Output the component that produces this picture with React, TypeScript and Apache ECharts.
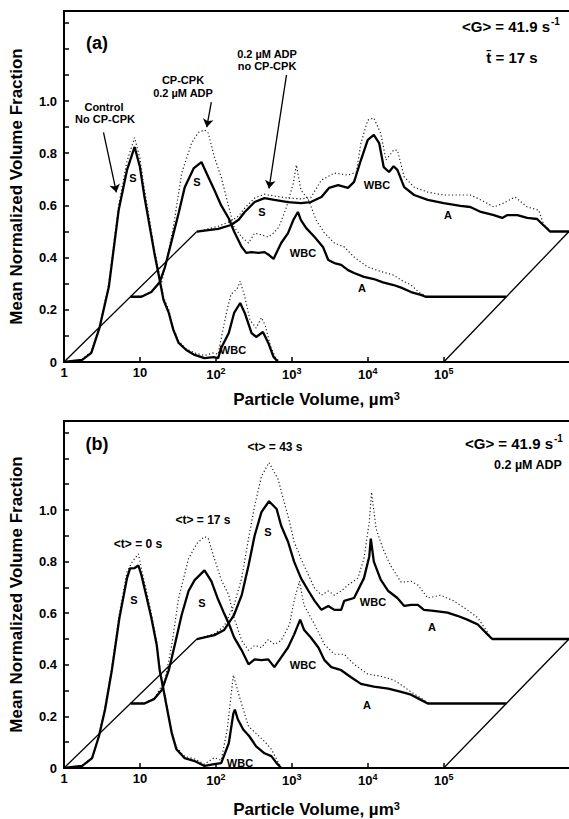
import React, { useEffect, useRef } from "react";
import * as echarts from "echarts";

// x values are log10(particle volume, µm³); y values are mean normalized volume fraction
const xTickValues = [0, 1, 2, 3, 4, 5];
const xTickLabels = ["1", "10", "10{s|2}", "10{s|3}", "10{s|4}", "10{s|5}"];
const yTickValues = [0, 0.1, 0.2, 0.3, 0.4, 0.5, 0.6, 0.7, 0.8, 0.9, 1.0, 1.1, 1.2, 1.3];
const yLabelValues = [0, 0.2, 0.4, 0.6, 0.8, 1.0];

const leftDiagonal = [[0, 0], [1.75, 0.5]];
const rightDiagonal = [[5, 0], [6.65, 0.5]];

// ---- Panel (a) ----
const aControlSolid = [[0,0],[0.24,0.008],[0.36,0.035],[0.47,0.134],[0.59,0.287],[0.72,0.582],[0.83,0.736],[0.93,0.824],[1.0,0.747],[1.06,0.632],[1.13,0.517],[1.19,0.418],[1.26,0.314],[1.31,0.238],[1.38,0.188],[1.44,0.123],[1.51,0.073],[1.61,0.046],[1.72,0.027],[1.85,0.015],[1.97,0.019],[2.03,0.015],[2.07,0.054],[2.17,0.111],[2.24,0.188],[2.32,0.226],[2.38,0.188],[2.47,0.111],[2.53,0.096],[2.62,0.115],[2.69,0.073],[2.76,0.019],[2.82,0]];
const aControlDotted = [[0,0],[0.24,0.01],[0.36,0.04],[0.47,0.14],[0.59,0.3],[0.72,0.6],[0.83,0.77],[0.93,0.86],[1.0,0.78],[1.06,0.66],[1.13,0.54],[1.19,0.43],[1.26,0.33],[1.31,0.25],[1.38,0.2],[1.44,0.13],[1.51,0.08],[1.61,0.05],[1.72,0.035],[1.85,0.025],[1.97,0.035],[2.03,0.03],[2.07,0.09],[2.14,0.19],[2.2,0.26],[2.28,0.28],[2.32,0.31],[2.38,0.25],[2.45,0.16],[2.53,0.13],[2.6,0.17],[2.65,0.14],[2.72,0.06],[2.78,0.02],[2.84,0]];
const aCpcpkSolid = [[0.875,0.25],[1.02,0.25],[1.15,0.268],[1.26,0.306],[1.33,0.364],[1.42,0.467],[1.51,0.571],[1.59,0.67],[1.71,0.743],[1.81,0.766],[1.9,0.709],[1.98,0.659],[2.07,0.6],[2.17,0.55],[2.24,0.5],[2.34,0.441],[2.4,0.418],[2.47,0.421],[2.56,0.418],[2.64,0.421],[2.7,0.41],[2.76,0.395],[2.8,0.42],[2.86,0.456],[2.95,0.494],[3.02,0.544],[3.08,0.575],[3.12,0.544],[3.19,0.513],[3.3,0.479],[3.41,0.441],[3.48,0.391],[3.56,0.379],[3.65,0.372],[3.74,0.352],[3.82,0.341],[3.95,0.326],[4.08,0.318],[4.2,0.305],[4.34,0.295],[4.44,0.285],[4.57,0.268],[4.7,0.257],[4.76,0.25],[5.825,0.25]];
const aCpcpkDotted = [[0.875,0.25],[1.02,0.252],[1.15,0.27],[1.29,0.31],[1.36,0.4],[1.44,0.517],[1.55,0.724],[1.68,0.839],[1.77,0.88],[1.85,0.889],[1.9,0.877],[1.98,0.785],[2.07,0.709],[2.17,0.594],[2.24,0.517],[2.34,0.479],[2.43,0.456],[2.51,0.494],[2.6,0.487],[2.69,0.479],[2.76,0.494],[2.83,0.517],[2.93,0.594],[3.02,0.686],[3.06,0.755],[3.12,0.659],[3.22,0.621],[3.32,0.544],[3.43,0.494],[3.56,0.456],[3.69,0.441],[3.82,0.402],[4.0,0.364],[4.17,0.347],[4.34,0.333],[4.44,0.314],[4.57,0.295],[4.67,0.268],[4.74,0.257],[4.78,0.25]];
const aAdpSolid = [[1.75,0.5],[2.03,0.51],[2.2,0.525],[2.3,0.545],[2.38,0.575],[2.51,0.613],[2.64,0.628],[2.77,0.621],[2.95,0.613],[3.12,0.609],[3.25,0.613],[3.39,0.632],[3.49,0.667],[3.61,0.678],[3.74,0.667],[3.82,0.69],[3.91,0.774],[4.0,0.851],[4.08,0.87],[4.15,0.839],[4.21,0.747],[4.28,0.728],[4.34,0.75],[4.39,0.736],[4.48,0.67],[4.61,0.64],[4.79,0.621],[5.0,0.609],[5.22,0.598],[5.35,0.594],[5.49,0.575],[5.66,0.563],[5.77,0.552],[5.84,0.563],[5.97,0.563],[6.1,0.552],[6.23,0.548],[6.31,0.525],[6.38,0.506],[6.4,0.5],[6.65,0.5]];
const aAdpDotted = [[1.75,0.5],[2.03,0.52],[2.2,0.54],[2.3,0.56],[2.38,0.59],[2.51,0.628],[2.64,0.643],[2.77,0.636],[2.95,0.628],[3.12,0.625],[3.25,0.63],[3.39,0.697],[3.56,0.724],[3.74,0.716],[3.85,0.728],[3.91,0.839],[4.0,0.927],[4.08,0.935],[4.17,0.877],[4.24,0.774],[4.34,0.812],[4.39,0.812],[4.48,0.709],[4.61,0.67],[4.79,0.651],[5.0,0.64],[5.35,0.64],[5.49,0.621],[5.66,0.594],[5.79,0.609],[5.94,0.632],[6.1,0.594],[6.25,0.582],[6.31,0.533],[6.36,0.513],[6.4,0.5]];

// ---- Panel (b) ----
const bT0Solid = [[0,0],[0.24,0.008],[0.37,0.038],[0.46,0.123],[0.54,0.226],[0.63,0.379],[0.73,0.582],[0.83,0.736],[0.87,0.774],[0.93,0.775],[0.98,0.785],[1.02,0.747],[1.09,0.659],[1.15,0.582],[1.22,0.479],[1.26,0.379],[1.31,0.303],[1.36,0.226],[1.42,0.134],[1.48,0.073],[1.59,0.038],[1.72,0.027],[1.85,0.008],[1.98,0.015],[2.07,0.019],[2.17,0.096],[2.23,0.211],[2.25,0.226],[2.29,0.188],[2.36,0.149],[2.44,0.123],[2.53,0.084],[2.64,0.057],[2.73,0.046],[2.8,0.019],[2.86,0]];
const bT0Dotted = [[0,0],[0.24,0.01],[0.37,0.04],[0.46,0.13],[0.54,0.235],[0.63,0.39],[0.73,0.6],[0.83,0.76],[0.9,0.8],[0.98,0.83],[1.02,0.77],[1.09,0.68],[1.15,0.6],[1.22,0.49],[1.26,0.39],[1.31,0.31],[1.36,0.235],[1.42,0.14],[1.48,0.08],[1.59,0.045],[1.72,0.035],[1.85,0.015],[1.98,0.04],[2.07,0.03],[2.15,0.15],[2.23,0.36],[2.31,0.276],[2.43,0.161],[2.53,0.134],[2.64,0.103],[2.73,0.073],[2.8,0.034],[2.86,0]];
const bT17Solid = [[0.875,0.25],[1.06,0.25],[1.19,0.268],[1.29,0.303],[1.38,0.379],[1.46,0.479],[1.55,0.594],[1.64,0.686],[1.72,0.728],[1.85,0.766],[1.94,0.724],[2.02,0.66],[2.1,0.605],[2.17,0.56],[2.24,0.506],[2.34,0.456],[2.43,0.402],[2.51,0.421],[2.6,0.418],[2.69,0.421],[2.77,0.391],[2.86,0.429],[2.95,0.467],[3.03,0.517],[3.11,0.575],[3.16,0.536],[3.25,0.506],[3.35,0.467],[3.43,0.418],[3.52,0.391],[3.65,0.379],[3.78,0.352],[3.91,0.326],[4.08,0.315],[4.27,0.308],[4.44,0.295],[4.57,0.284],[4.7,0.264],[4.79,0.25],[5.825,0.25]];
const bT17Dotted = [[0.875,0.25],[1.06,0.252],[1.19,0.27],[1.33,0.341],[1.42,0.479],[1.51,0.659],[1.64,0.812],[1.75,0.87],[1.85,0.897],[1.9,0.889],[1.98,0.812],[2.07,0.73],[2.17,0.67],[2.24,0.582],[2.34,0.494],[2.43,0.456],[2.51,0.475],[2.6,0.467],[2.69,0.498],[2.77,0.479],[2.86,0.494],[2.97,0.556],[3.03,0.648],[3.1,0.724],[3.16,0.632],[3.3,0.556],[3.43,0.479],[3.56,0.441],[3.69,0.441],[3.82,0.402],[4.0,0.364],[4.17,0.356],[4.34,0.341],[4.44,0.322],[4.61,0.287],[4.74,0.264],[4.79,0.25]];
const bT43Solid = [[1.75,0.5],[1.98,0.515],[2.11,0.535],[2.24,0.594],[2.34,0.67],[2.43,0.785],[2.51,0.9],[2.6,0.992],[2.7,1.034],[2.8,1.004],[2.86,0.939],[2.95,0.877],[3.03,0.8],[3.12,0.736],[3.22,0.686],[3.3,0.648],[3.39,0.613],[3.48,0.628],[3.56,0.613],[3.65,0.613],[3.69,0.648],[3.82,0.659],[3.95,0.736],[4.02,0.82],[4.04,0.889],[4.08,0.8],[4.17,0.73],[4.27,0.686],[4.39,0.659],[4.48,0.628],[4.57,0.632],[4.66,0.632],[4.74,0.613],[4.87,0.609],[5.05,0.602],[5.18,0.59],[5.31,0.575],[5.45,0.556],[5.58,0.517],[5.64,0.5],[6.65,0.5]];
const bT43Dotted = [[1.75,0.5],[1.98,0.52],[2.11,0.55],[2.24,0.632],[2.34,0.736],[2.43,0.889],[2.51,1.015],[2.6,1.13],[2.7,1.184],[2.82,1.119],[2.9,1.03],[2.97,0.954],[3.03,0.877],[3.12,0.812],[3.22,0.747],[3.3,0.697],[3.39,0.67],[3.48,0.686],[3.56,0.67],[3.65,0.686],[3.74,0.709],[3.87,0.736],[3.95,0.812],[4.02,0.954],[4.05,1.069],[4.11,0.927],[4.2,0.85],[4.3,0.785],[4.44,0.72],[4.57,0.724],[4.66,0.709],[4.79,0.659],[4.96,0.67],[5.13,0.648],[5.31,0.613],[5.45,0.582],[5.58,0.525],[5.62,0.5]];

// arrows in panel (a): [from, to] in data coordinates
const arrowControl = [[0.52, 0.88], [0.69, 0.65]];
const arrowCpcpk = [[1.94, 0.996], [1.88, 0.9]];
const arrowAdp = [[2.93, 1.1], [2.7, 0.665]];

const FONT = '"Liberation Sans", Arial, Helvetica, sans-serif';
const X_MAX = 6.65;
const Y_MAX = 1.345;

export default function App() {
  const ref = useRef<HTMLDivElement>(null);
  useEffect(() => {
    if (!ref.current) return;
    const chart = echarts.init(ref.current, undefined, { renderer: "svg" });

    const grids = [
      { left: 62, right: 0, top: 11, height: 351 },
      { left: 62, right: 0, top: 421, height: 351 },
    ];

    const bottomX = (gi: number, gap: number) => ({
      gridIndex: gi,
      type: "value",
      position: "bottom",
      min: 0,
      max: X_MAX,
      axisLine: { show: true, onZero: false, lineStyle: { color: "#000", width: 2 } },
      axisTick: { show: true, inside: true, length: 5, customValues: xTickValues, lineStyle: { color: "#000", width: 1.5 } },
      axisLabel: {
        show: true,
        customValues: xTickValues,
        formatter: (v: number) => xTickLabels[Math.round(v)] ?? "",
        color: "#000",
        fontFamily: FONT,
        fontWeight: "bold",
        fontSize: 13,
        margin: 4,
        rich: { s: { fontSize: 9, fontWeight: "bold", fontFamily: FONT, color: "#000", padding: [0, 0, 7, 0] } },
      },
      splitLine: { show: false },
      name: "Particle Volume, µm{s|3}",
      nameLocation: "middle",
      nameGap: gap,
      nameTextStyle: {
        color: "#000",
        fontFamily: FONT,
        fontWeight: "bold",
        fontSize: 17,
        rich: { s: { fontSize: 11, fontWeight: "bold", fontFamily: FONT, color: "#000", padding: [0, 0, 8, 0] } },
      },
    });
    const topX = (gi: number) => ({
      gridIndex: gi,
      type: "value",
      position: "top",
      min: 0,
      max: X_MAX,
      axisLine: { show: true, onZero: false, lineStyle: { color: "#000", width: 2 } },
      axisTick: { show: false },
      axisLabel: { show: false },
      splitLine: { show: false },
    });
    const yAx = (gi: number) => ({
      gridIndex: gi,
      type: "value",
      min: 0,
      max: Y_MAX,
      axisLine: { show: true, onZero: false, lineStyle: { color: "#000", width: 2 } },
      axisTick: { show: true, inside: true, length: 5, customValues: yTickValues, lineStyle: { color: "#000", width: 1.5 } },
      axisLabel: {
        show: true,
        customValues: yLabelValues,
        formatter: (v: number) => (Math.abs(v) < 1e-9 ? "0" : v.toFixed(1)),
        color: "#000",
        fontFamily: FONT,
        fontWeight: "bold",
        fontSize: 13,
        margin: 7,
      },
      splitLine: { show: false },
      name: "Mean Normalized Volume Fraction",
      nameLocation: "middle",
      nameGap: 39,
      nameRotate: 90,
      nameTextStyle: { color: "#000", fontFamily: FONT, fontWeight: "bold", fontSize: 17 },
    });

    const solid = (data: number[][], gi: number, extra: any = {}) => ({
      type: "line",
      xAxisIndex: gi,
      yAxisIndex: gi,
      data,
      symbol: "none",
      showSymbol: false,
      lineStyle: { color: "#000", width: 2.3 },
      z: 5,
      ...extra,
    });
    const dotted = (data: number[][], gi: number) => ({
      type: "line",
      xAxisIndex: gi,
      yAxisIndex: gi,
      data,
      symbol: "none",
      showSymbol: false,
      lineStyle: { color: "#222", width: 1.2, type: [1.2, 2.4] },
      z: 4,
    });
    const thin = (data: number[][], gi: number) => ({
      type: "line",
      xAxisIndex: gi,
      yAxisIndex: gi,
      data,
      symbol: "none",
      showSymbol: false,
      lineStyle: { color: "#000", width: 1.3 },
      z: 3,
    });

    const arrowPair = (a: number[][]) => [{ coord: a[0] }, { coord: a[1] }];

    const series: any[] = [
      thin(leftDiagonal, 0),
      thin(rightDiagonal, 0),
      dotted(aControlDotted, 0),
      dotted(aCpcpkDotted, 0),
      dotted(aAdpDotted, 0),
      solid(aControlSolid, 0, {
        markLine: {
          silent: true,
          animation: false,
          symbol: ["none", "arrow"],
          symbolSize: 8,
          label: { show: false },
          lineStyle: { color: "#000", width: 1.3, type: "solid" },
          data: [arrowPair(arrowControl), arrowPair(arrowCpcpk), arrowPair(arrowAdp)],
        },
      }),
      solid(aCpcpkSolid, 0),
      solid(aAdpSolid, 0),
      thin(leftDiagonal, 1),
      thin(rightDiagonal, 1),
      dotted(bT0Dotted, 1),
      dotted(bT17Dotted, 1),
      dotted(bT43Dotted, 1),
      solid(bT0Solid, 1),
      solid(bT17Solid, 1),
      solid(bT43Solid, 1),
    ];

    const txt = (text: string, x: number, y: number, size: number, align: string = "center") => ({
      type: "text",
      x,
      y,
      z: 10,
      style: {
        text,
        font: `bold ${size}px ${FONT}`,
        fill: "#000",
        align,
        verticalAlign: "middle",
      },
    });

    const graphic: any[] = [
      // panel (a)
      txt("(a)", 97, 43, 18),
      txt("<G> = 41.9 s", 550, 26, 15, "right"),
      txt("-1", 551, 21, 10, "left"),
      txt("t\u0304 = 17 s", 512, 57, 15),
      txt("Control", 104, 107, 11),
      txt("No CP-CPK", 105, 119, 11),
      txt("CP-CPK", 183, 80, 11),
      txt("0.2 µM ADP", 183, 93, 11),
      txt("0.2 µM ADP", 267, 54, 11),
      txt("no CP-CPK", 267, 66, 11),
      txt("S", 133, 178, 11),
      txt("S", 197, 182, 11),
      txt("S", 262, 212, 11),
      txt("WBC", 233, 350, 11),
      txt("WBC", 303, 253, 11),
      txt("WBC", 377, 185, 11),
      txt("A", 362, 288, 11),
      txt("A", 448, 215, 11),
      // panel (b)
      txt("(b)", 97, 444, 18),
      txt("<G> = 41.9 s", 553, 443, 15, "right"),
      txt("-1", 554, 438, 10, "left"),
      txt("0.2 µM ADP", 528, 465, 12.5),
      txt("<t> = 0 s", 138, 544, 12),
      txt("<t> = 17 s", 203, 520, 12),
      txt("<t> = 43 s", 275, 447, 12),
      txt("S", 134, 600, 11),
      txt("S", 202, 603, 11),
      txt("S", 268, 532, 11),
      txt("WBC", 240, 763, 11),
      txt("WBC", 303, 665, 11),
      txt("WBC", 373, 602, 11),
      txt("A", 367, 705, 11),
      txt("A", 432, 627, 11),
    ];

    chart.setOption({
      animation: false,
      backgroundColor: "#fff",
      grid: grids,
      xAxis: [bottomX(0, 28), bottomX(1, 32), topX(0), topX(1)],
      yAxis: [yAx(0), yAx(1)],
      series,
      graphic,
    });
    return () => chart.dispose();
  }, []);

  return (
    <div
      ref={ref}
      style={{ position: "absolute", left: 0, top: 0, width: 569, height: 819, background: "#fff" }}
    />
  );
}
